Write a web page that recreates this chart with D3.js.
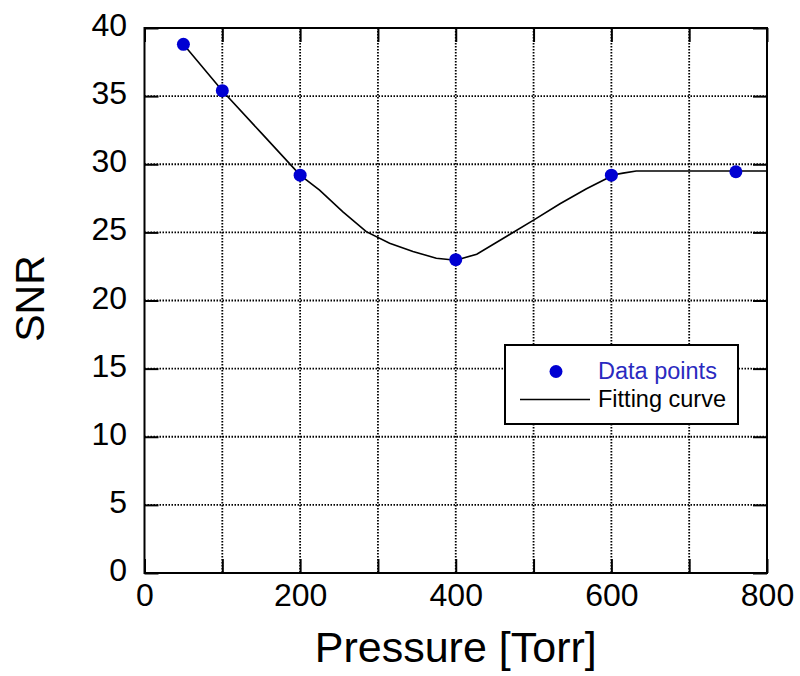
<!DOCTYPE html>
<html>
<head>
<meta charset="utf-8">
<script src="https://cdn.jsdelivr.net/npm/d3@7"></script>
<style>
  html, body { margin: 0; padding: 0; background: #fff; }
  svg { display: block; font-family: "Liberation Sans", Arial, sans-serif; }
</style>
</head>
<body>
<svg id="chart" width="800" height="676"></svg>
<script>
// Measured SNR at each pressure
const pressure = [50, 100, 200, 400, 600, 760];
const snr = [38.8, 35.4, 29.2, 23.0, 29.2, 29.45];

// Fitted curve samples
const fitPressure = [50, 100, 150, 200, 225, 255, 285, 315, 345, 375, 400, 427, 465, 500, 534, 568, 594, 600, 615, 632, 700, 800];
const fitSnr = [38.8, 35.4, 32.3, 29.2, 28.1, 26.5, 25.05, 24.2, 23.6, 23.1, 22.95, 23.4, 24.7, 25.9, 27.1, 28.2, 28.95, 29.2, 29.35, 29.5, 29.5, 29.5];

// Axis ticks and labels
const xTicks = [0, 100, 200, 300, 400, 500, 600, 700, 800];
const xTickLabels = ["0", "", "200", "", "400", "", "600", "", "800"];
const yTicks = [0, 5, 10, 15, 20, 25, 30, 35, 40];
const yTickLabels = ["0", "5", "10", "15", "20", "25", "30", "35", "40"];

const legendLabels = ["Data points", "Fitting curve"];

const svg = d3.select("#chart");
const plotL = 144.5, plotR = 767, plotT = 28, plotB = 573;

const x = d3.scaleLinear().domain([0, 800]).range([plotL, plotR]);
const y = d3.scaleLinear().domain([0, 40]).range([plotB, plotT]);

const markBlue = "#0000d2";

// Dotted grid
const grid = svg.append("g");
grid.selectAll("line.vx").data(xTicks.slice(1, -1)).join("line")
  .attr("x1", d => x(d)).attr("x2", d => x(d))
  .attr("y1", plotT).attr("y2", plotB)
  .attr("stroke", "#000").attr("stroke-width", 1.8)
  .attr("stroke-dasharray", "1.5,1.5");
grid.selectAll("line.hy").data(yTicks.slice(1, -1)).join("line")
  .attr("y1", d => y(d)).attr("y2", d => y(d))
  .attr("x1", plotL).attr("x2", plotR)
  .attr("stroke", "#000").attr("stroke-width", 1.8)
  .attr("stroke-dasharray", "1.5,1.5");

// Axes with inward ticks on all four sides
const tickLen = 14;
const axBottom = svg.append("g").attr("transform", `translate(0,${plotB})`)
  .call(d3.axisBottom(x).tickValues(xTicks).tickSizeInner(-tickLen).tickSizeOuter(0).tickFormat((d, i) => xTickLabels[i]));
const axTop = svg.append("g").attr("transform", `translate(0,${plotT})`)
  .call(d3.axisTop(x).tickValues(xTicks).tickSizeInner(-tickLen).tickSizeOuter(0).tickFormat(""));
const axLeft = svg.append("g").attr("transform", `translate(${plotL},0)`)
  .call(d3.axisLeft(y).tickValues(yTicks).tickSizeInner(-tickLen).tickSizeOuter(0).tickFormat((d, i) => yTickLabels[i]));
const axRight = svg.append("g").attr("transform", `translate(${plotR},0)`)
  .call(d3.axisRight(y).tickValues(yTicks).tickSizeInner(-tickLen).tickSizeOuter(0).tickFormat(""));

[axBottom, axTop, axLeft, axRight].forEach(g => {
  g.select(".domain").remove();
  g.selectAll(".tick line").attr("stroke", "#000").attr("stroke-width", 2);
});

axBottom.selectAll(".tick text")
  .attr("fill", "#000").attr("font-size", 32)
  .attr("y", 33).attr("dy", 0)
  .attr("font-family", "'Liberation Sans', Arial, sans-serif");
axLeft.selectAll(".tick text")
  .attr("fill", "#000").attr("font-size", 32)
  .attr("x", -17.5).attr("dy", 7.5)
  .attr("font-family", "'Liberation Sans', Arial, sans-serif");

// Plot frame
svg.append("rect")
  .attr("x", plotL).attr("y", plotT)
  .attr("width", plotR - plotL).attr("height", plotB - plotT)
  .attr("fill", "none").attr("stroke", "#000").attr("stroke-width", 2);

// Fitting curve
const fitData = fitPressure.map((p, i) => [p, fitSnr[i]]);
svg.append("path")
  .datum(fitData)
  .attr("d", d3.line().x(d => x(d[0])).y(d => y(d[1])))
  .attr("fill", "none").attr("stroke", "#000").attr("stroke-width", 1.6);

// Data points
const pts = pressure.map((p, i) => [p, snr[i]]);
svg.append("g").selectAll("circle").data(pts).join("circle")
  .attr("cx", d => x(d[0])).attr("cy", d => y(d[1]))
  .attr("r", 6.5).attr("fill", markBlue);

// Legend
const lg = svg.append("g");
lg.append("rect")
  .attr("x", 505).attr("y", 345).attr("width", 233).attr("height", 79)
  .attr("fill", "#fff").attr("stroke", "#000").attr("stroke-width", 2);
lg.append("circle").attr("cx", 556).attr("cy", 371.5).attr("r", 6.5).attr("fill", markBlue);
lg.append("line").attr("x1", 520).attr("x2", 590).attr("y1", 399.5).attr("y2", 399.5)
  .attr("stroke", "#000").attr("stroke-width", 1.6);
lg.append("text").attr("x", 598).attr("y", 379)
  .attr("font-size", 23.5).attr("fill", "#2a2ac0").text(legendLabels[0]);
lg.append("text").attr("x", 598).attr("y", 407)
  .attr("font-size", 23.5).attr("fill", "#000").text(legendLabels[1]);

// Axis titles
svg.append("text")
  .attr("x", (plotL + plotR) / 2).attr("y", 662)
  .attr("text-anchor", "middle").attr("font-size", 43).attr("fill", "#000")
  .text("Pressure [Torr]");
svg.append("text")
  .attr("transform", `translate(44,${(plotT + plotB) / 2 - 2}) rotate(-90)`)
  .attr("text-anchor", "middle").attr("font-size", 41).attr("fill", "#000")
  .text("SNR");
</script>
</body>
</html>
